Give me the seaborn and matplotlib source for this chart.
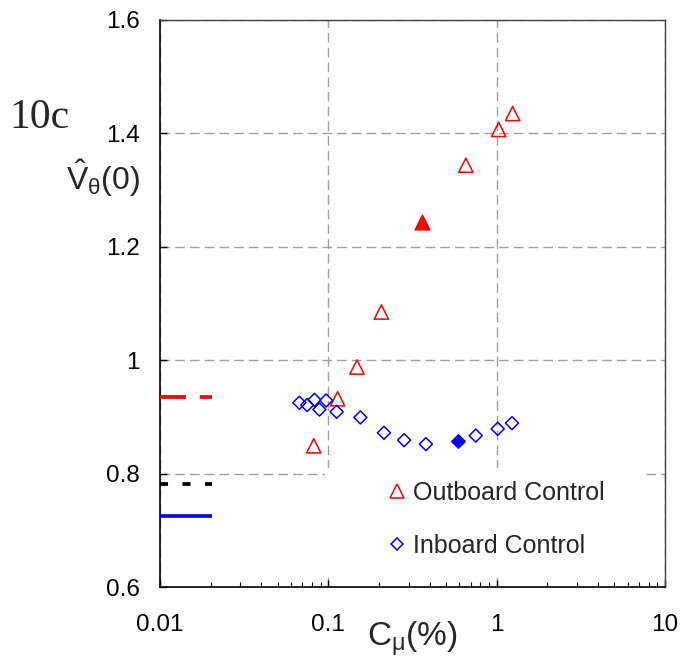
import numpy as np
import matplotlib
matplotlib.use('Agg')
import matplotlib.pyplot as plt
import seaborn as sns
from matplotlib.lines import Line2D
from matplotlib.patches import Rectangle
from matplotlib.ticker import LogLocator, NullFormatter, NullLocator

# ---------------- data ----------------
out_x = [0.0819, 0.1135, 0.148, 0.2066, 0.656, 1.028, 1.244]
out_y = [0.849, 0.932, 0.988, 1.085, 1.344, 1.407, 1.435]
out_fill_x = [0.361]
out_fill_y = [1.244]

in_x = [0.0673, 0.0748, 0.0827, 0.0885, 0.097, 0.112, 0.155, 0.214, 0.282, 0.380, 0.751, 1.014, 1.233]
in_y = [0.925, 0.921, 0.930, 0.913, 0.929, 0.909, 0.899, 0.872, 0.859, 0.852, 0.867, 0.879, 0.889]
in_fill_x = [0.588]
in_fill_y = [0.858]

ref_x = [0.01, 0.0205]
ref_red = 0.935
ref_black = 0.782
ref_blue = 0.725

xtick_vals = [0.01, 0.1, 1, 10]
xtick_labels = ['0.01', '0.1', '1', '10']
ytick_vals = [0.6, 0.8, 1.0, 1.2, 1.4, 1.6]
ytick_labels = ['0.6', '0.8', '1', '1.2', '1.4', '1.6']
series_labels = ['Outboard Control', 'Inboard Control']

# ---------------- style ----------------
sns.set_style('white')
plt.rcParams['font.family'] = ['Liberation Sans', 'DejaVu Sans']
plt.rcParams['mathtext.fontset'] = 'custom'
plt.rcParams['mathtext.rm'] = 'Liberation Sans'
plt.rcParams['mathtext.it'] = 'Liberation Sans'
plt.rcParams['mathtext.bf'] = 'Liberation Sans:bold'
plt.rcParams['mathtext.sf'] = 'Liberation Sans'
plt.rcParams['lines.scale_dashes'] = False

fig = plt.figure(figsize=(6.81, 6.62), dpi=100)
ax = fig.add_axes([160/681, 75/662, 505/681, 567/662])

RED = '#ff0000'
BLUE = '#0000ff'

# scatter series
sns.scatterplot(x=out_x, y=out_y, marker='^', s=105, color=RED, facecolor='none',
                edgecolor=RED, linewidth=1.1, ax=ax, zorder=3)
sns.scatterplot(x=out_fill_x, y=out_fill_y, marker='^', s=115, color=RED,
                edgecolor=RED, linewidth=1.0, ax=ax, zorder=3)
sns.scatterplot(x=in_x, y=in_y, marker='D', s=44, color=BLUE, facecolor='none',
                edgecolor=BLUE, linewidth=1.1, ax=ax, zorder=3)
sns.scatterplot(x=in_fill_x, y=in_fill_y, marker='D', s=48, color=BLUE,
                edgecolor=BLUE, linewidth=1.0, ax=ax, zorder=3)

# reference levels at the left edge
ax.plot(ref_x, [ref_red, ref_red], color=RED, lw=2.7, dashes=(18.7, 10.0),
        dash_capstyle='butt', solid_capstyle='butt', clip_on=False, zorder=4)
ax.plot(ref_x, [ref_black, ref_black], color='black', lw=2.7, dashes=(5.8, 10.4),
        dash_capstyle='butt', solid_capstyle='butt', clip_on=False, zorder=4)
ax.plot(ref_x, [ref_blue, ref_blue], color=BLUE, lw=2.6,
        solid_capstyle='butt', clip_on=False, zorder=4)

# axes
ax.set_xscale('log')
ax.set_xlim(0.01, 10)
ax.set_ylim(0.6, 1.6)
ax.set_xticks(xtick_vals, labels=xtick_labels)
ax.set_yticks(ytick_vals, labels=ytick_labels)
ax.xaxis.set_minor_locator(LogLocator(base=10, subs=np.arange(2, 10)))
ax.xaxis.set_minor_formatter(NullFormatter())
ax.yaxis.set_minor_locator(NullLocator())

ax.set_axisbelow(True)
ax.grid(True, which='major', color='#a0a0a0', linestyle=(0, (7, 3.6)), linewidth=1.0)

ax.tick_params(axis='both', which='both', direction='in', labelsize=17.5,
               colors='black', top=False, right=False, bottom=True, left=True)
ax.tick_params(axis='x', which='major', length=5, width=1.0, pad=19.5)
ax.tick_params(axis='x', which='minor', length=3.5, width=0.8)
ax.tick_params(axis='y', which='major', length=5, width=1.0, pad=14.4)

for s in ['left', 'bottom']:
    ax.spines[s].set_color('black')
    ax.spines[s].set_linewidth(1.2)
for s in ['top', 'right']:
    ax.spines[s].set_color('#404040')
    ax.spines[s].set_linewidth(1.0)

# labels
ax.set_xlabel(r'C$_{\mu}$(%)', fontsize=24)
ax.xaxis.set_label_coords(0.5, -0.058)
ax.set_ylabel(r'$\hat{V}_{\theta}(0)$', fontsize=23, rotation=0, ha='right', va='center')
ax.yaxis.set_label_coords(-0.0396, 0.7213)

fig.text(9/681, (662-128)/662, '10c', fontsize=30, family='Liberation Serif',
         va='baseline', ha='left')

# legend background and legend
ax.add_patch(Rectangle((0.327, 0.0247), 0.629, 0.185, transform=ax.transAxes,
                       facecolor='white', edgecolor='none', zorder=1.5))
handles = [
    Line2D([], [], marker='^', ls='none', mfc='none', mec=RED, ms=10, mew=1.1),
    Line2D([], [], marker='D', ls='none', mfc='none', mec=BLUE, ms=6.6, mew=1.1),
]
ax.legend(handles, series_labels, loc='upper left', bbox_to_anchor=(0.4436, 0.187),
          frameon=False, fontsize=18, handlelength=1.0, handletextpad=0.14,
          labelspacing=1.16, borderpad=0, borderaxespad=0)

fig.savefig('out.png', dpi=100)
